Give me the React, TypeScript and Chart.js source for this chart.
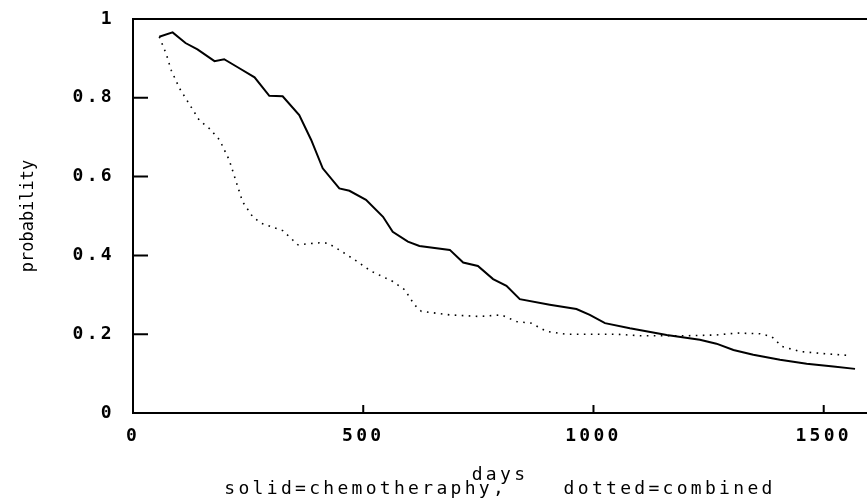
import React, { useEffect, useRef } from "react";
import { Chart, registerables } from "chart.js";

Chart.register(...registerables);

const solidDays = [57, 86, 114, 140, 177, 198, 231, 264, 296, 325, 361, 387, 412, 448, 470, 506, 543, 564, 597, 622, 688, 717, 749, 782, 811, 840, 905, 963, 992, 1025, 1079, 1159, 1231, 1267, 1304, 1347, 1405, 1463, 1521, 1568];
const solidProb = [0.955, 0.966, 0.939, 0.923, 0.893, 0.898, 0.875, 0.852, 0.805, 0.804, 0.756, 0.693, 0.621, 0.570, 0.564, 0.541, 0.498, 0.460, 0.435, 0.424, 0.414, 0.382, 0.373, 0.340, 0.323, 0.289, 0.275, 0.264, 0.249, 0.228, 0.215, 0.198, 0.186, 0.176, 0.160, 0.148, 0.135, 0.125, 0.118, 0.112];

const dottedDays = [57, 72, 83, 101, 126, 144, 166, 188, 209, 224, 238, 260, 278, 325, 347, 358, 405, 423, 448, 485, 517, 564, 590, 611, 626, 688, 753, 800, 833, 865, 898, 941, 1050, 1101, 1202, 1267, 1311, 1362, 1387, 1409, 1449, 1507, 1557];
const dottedProb = [0.955, 0.912, 0.870, 0.824, 0.777, 0.743, 0.722, 0.693, 0.642, 0.587, 0.536, 0.498, 0.482, 0.463, 0.439, 0.427, 0.432, 0.431, 0.414, 0.386, 0.360, 0.334, 0.313, 0.275, 0.258, 0.249, 0.245, 0.249, 0.232, 0.228, 0.207, 0.200, 0.200, 0.196, 0.196, 0.198, 0.203, 0.201, 0.194, 0.169, 0.156, 0.150, 0.146];

const xTickValues = [0, 500, 1000, 1500];
const yTickValues = [0, 0.2, 0.4, 0.6, 0.8, 1];
const xTitle = ["days", "solid=chemotheraphy,    dotted=combined"];
const yTitle = "probability";

const framePlugin = {
  id: "frame",
  beforeDraw(chart: any) {
    chart.ctx.letterSpacing = "0px";
  },
  afterDatasetsDraw(chart: any) {
    const { ctx, chartArea, scales } = chart;
    const { left, top, right, bottom } = chartArea;
    ctx.save();
    ctx.strokeStyle = "#000";
    ctx.lineWidth = 2;
    ctx.beginPath();
    ctx.moveTo(right + 4, top);
    ctx.lineTo(left, top);
    ctx.lineTo(left, bottom);
    ctx.lineTo(right + 4, bottom);
    yTickValues.forEach((v) => {
      const py = scales.y.getPixelForValue(v);
      ctx.moveTo(left, py);
      ctx.lineTo(left + 15, py);
    });
    xTickValues.forEach((v) => {
      const px = scales.x.getPixelForValue(v);
      ctx.moveTo(px, bottom);
      ctx.lineTo(px, bottom - 8);
    });
    ctx.stroke();
    ctx.restore();
    ctx.letterSpacing = "3.3px";
  },
  afterDraw(chart: any) {
    chart.ctx.letterSpacing = "0px";
  },
};

export default function App() {
  const ref = useRef<HTMLCanvasElement | null>(null);
  useEffect(() => {
    if (!ref.current) return;
    const chart = new Chart(ref.current, {
      type: "line",
      data: {
        datasets: [
          {
            label: "chemotheraphy",
            data: solidDays.map((d, i) => ({ x: d, y: solidProb[i] })),
            borderColor: "#000",
            borderWidth: 2,
            pointRadius: 0,
            tension: 0,
            fill: false,
          },
          {
            label: "combined",
            data: dottedDays.map((d, i) => ({ x: d, y: dottedProb[i] })),
            borderColor: "#000",
            borderWidth: 1.6,
            borderDash: [1.6, 5.4],
            pointRadius: 0,
            tension: 0,
            fill: false,
          },
        ],
      },
      options: {
        animation: false,
        responsive: true,
        maintainAspectRatio: false,
        layout: { padding: { top: 19, right: 0, left: 0, bottom: 0 } },
        plugins: { legend: { display: false }, tooltip: { enabled: false } },
        scales: {
          x: {
            type: "linear",
            min: 0,
            max: 1594,
            afterFit: (s: any) => {
              s.height = 89;
              s.paddingLeft = 0;
              s.paddingRight = 0;
            },
            afterBuildTicks: (s: any) => {
              s.ticks = xTickValues.map((v) => ({ value: v }));
            },
            grid: { display: false, drawTicks: false, z: 1 },
            border: { display: false },
            ticks: {
              z: 1,
              padding: 13,
              color: "#000",
              font: { family: "DejaVu Sans Mono", size: 18, weight: "bold" },
              callback: (v: any) => String(v),
            },
            title: {
              display: true,
              text: xTitle,
              color: "#000",
              font: { family: "DejaVu Sans Mono", size: 18, lineHeight: 0.8 },
              padding: { top: 0, bottom: 5 },
            },
          },
          y: {
            type: "linear",
            min: 0,
            max: 1,
            afterFit: (s: any) => {
              s.width = 133;
              s.paddingTop = 0;
              s.paddingBottom = 0;
            },
            afterBuildTicks: (s: any) => {
              s.ticks = yTickValues.map((v) => ({ value: v }));
            },
            grid: { display: false, drawTicks: false },
            border: { display: false },
            ticks: {
              z: 1,
              padding: 18,
              color: "#000",
              font: { family: "DejaVu Sans Mono", size: 18, weight: "bold" },
              callback: (v: any) => (v === 0 ? "0" : v === 1 ? "1" : Number(v).toFixed(1)),
            },
            title: {
              display: true,
              text: yTitle,
              color: "#000",
              font: { family: "DejaVu Sans Mono", size: 17 },
              padding: { top: 18, bottom: 0 },
            },
          },
        },
      },
      plugins: [framePlugin],
    } as any);
    return () => chart.destroy();
  }, []);
  return (
    <div style={{ position: "absolute", left: 0, top: 0, width: 867, height: 502, background: "#fff" }}>
      <canvas ref={ref} />
    </div>
  );
}
